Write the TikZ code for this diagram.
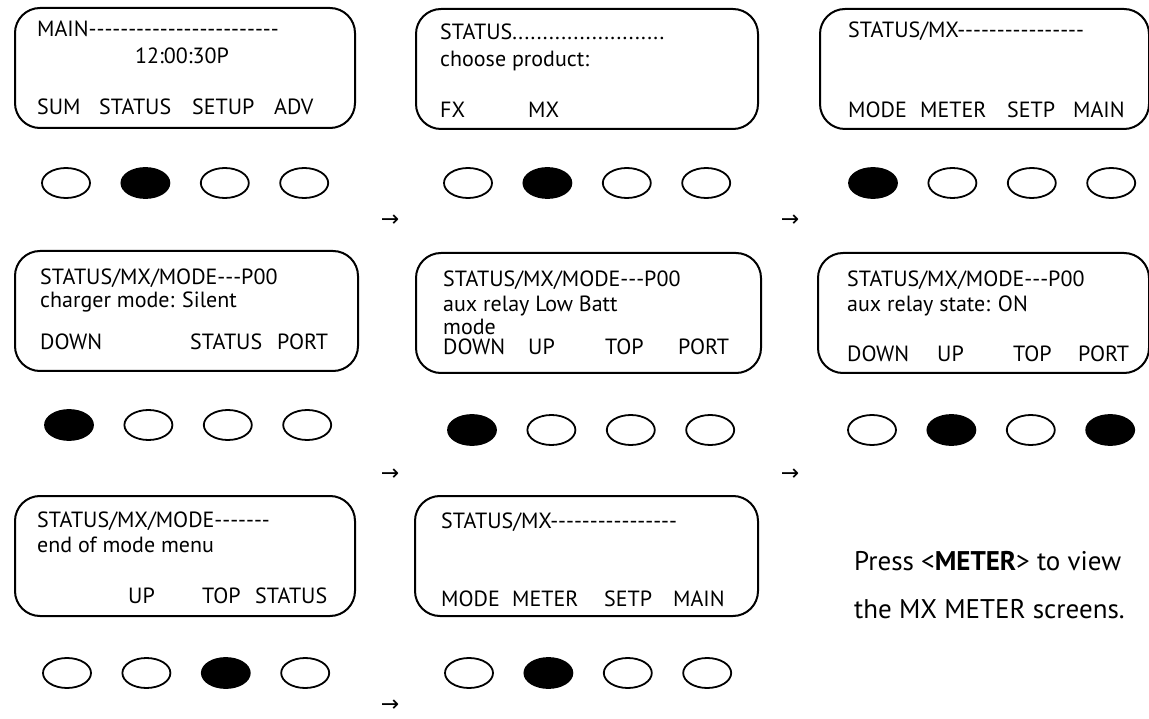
\documentclass[tikz,border=0pt]{standalone}
\usepackage{fontspec}
\usetikzlibrary{positioning}
\usetikzlibrary{shapes.geometric}
\newfontfamily\lcdfont{PT Sans}
\newfontfamily\notefont{PT Sans}
\newfontfamily\arrowfont{DejaVu Sans}
\tikzset{
    screen/.style={draw, line width=2pt, rounded corners=25pt, anchor=north west, inner sep=0pt, minimum height=\scrHeight pt},
    lcd/.style={anchor=base west, inner sep=0pt},
    key/.style={draw, ellipse, line width=1.8pt, inner sep=0pt, minimum width=\keyWidth pt, minimum height=\keyHeight pt},
    on/.style={fill=black},
    off/.style={fill=white},
    flow/.style={inner sep=0pt, text height=12pt, text depth=0pt, font=\arrowfont\fontsize{22}{26}\selectfont},
    note/.style={anchor=base west, inner sep=0pt, font=\notefont\fontsize{27}{32}\selectfont}
}
\newcommand{\fillchars}[2]{\foreach \i in {1,...,#1}{#2}}
\newcommand{\keys}[3]{
    \foreach \s [count=\x from 0] in {#3} {
        \ifnum\x=0
            \node (#1_key_0) [key, \s, #2] {};
        \else
            \pgfmathtruncatemacro{\prev}{\x-1}
            \node (#1_key_\x) [key, \s, right=\keyGap pt of #1_key_\prev] {};
        \fi
    }
}

\begin{document}
\begin{tikzpicture}[x=1pt, y=-1pt, font=\lcdfont\fontsize{22}{26}\selectfont]
    \pgfmathsetmacro{\scrWidth}{342}
    \pgfmathsetmacro{\scrHeight}{120}
    \pgfmathsetmacro{\keyWidth}{48}
    \pgfmathsetmacro{\keyHeight}{30}
    \pgfmathsetmacro{\keyGap}{29.6}

    \useasboundingbox (0,0) rectangle (1149,719);

    % row 1
    \node (main) [screen, minimum width=340pt] at (14,7) {};
    \node (main_title) [lcd] at (37,37) {MAIN\fillchars{24}{-}};
    \node (main_clock) [lcd, anchor=base] at (182,64) {12:00:30P};
    \node (main_sum) [lcd] at (37,115) {SUM};
    \node (main_status) [lcd] at (99,115) {STATUS};
    \node (main_setup) [lcd] at (192,115) {SETUP};
    \node (main_adv) [lcd] at (274,115) {ADV};
    \keys{main}{at={(66,183)}}{off,on,off,off}

    \node (status) [screen, minimum width=\scrWidth pt] at (415,8) {};
    \node (status_title) [lcd] at (440,40) {STATUS\fillchars{25}{.}};
    \node (status_text) [lcd] at (440,67) {choose product:};
    \node (status_fx) [lcd] at (440,118) {FX};
    \node (status_mx) [lcd] at (528,118) {MX};
    \keys{status}{at={(468,183)}}{off,on,off,off}

    \node (mx) [screen, minimum width=329pt] at (819,8) {};
    \node (mx_title) [lcd] at (848,38) {STATUS/MX\fillchars{16}{-}};
    \node (mx_mode) [lcd] at (848,118) {MODE};
    \node (mx_meter) [lcd] at (920,118) {METER};
    \node (mx_setp) [lcd] at (1007,118) {SETP};
    \node (mx_main) [lcd] at (1073,118) {MAIN};
    \keys{mx}{at={(873,183)}}{on,off,off,off}

    \node (arr_a) [flow] at (390,221) {→};
    \node (arr_b) [flow] at (790,221) {→};

    % row 2
    \node (charger) [screen, minimum width=343pt] at (14,250) {};
    \node (charger_title) [lcd] at (40,285) {STATUS/MX/MODE\fillchars{3}{-}P00};
    \node (charger_text) [lcd] at (40,308) {charger mode: Silent};
    \node (charger_down) [lcd] at (40,350) {DOWN};
    \node (charger_status) [lcd] at (190,350) {STATUS};
    \node (charger_port) [lcd] at (277,350) {PORT};
    \keys{charger}{at={(69,425)}}{on,off,off,off}

    \node (relay) [screen, minimum width=345pt] at (415,252) {};
    \node (relay_title) [lcd] at (443,287) {STATUS/MX/MODE\fillchars{3}{-}P00};
    \node (relay_text) [lcd] at (443,312) {aux relay Low Batt};
    \node (relay_text2) [lcd] at (443,335) {mode};
    \node (relay_down) [lcd] at (443,355) {DOWN};
    \node (relay_up) [lcd] at (528,355) {UP};
    \node (relay_top) [lcd] at (605,355) {TOP};
    \node (relay_port) [lcd] at (678,355) {PORT};
    \keys{relay}{at={(472,430)}}{on,off,off,off}

    \node (state) [screen, minimum width=331pt] at (817,252) {};
    \node (state_title) [lcd] at (847,287) {STATUS/MX/MODE\fillchars{3}{-}P00};
    \node (state_text) [lcd] at (847,312) {aux relay state: ON};
    \node (state_down) [lcd] at (847,362) {DOWN};
    \node (state_up) [lcd] at (937,362) {UP};
    \node (state_top) [lcd] at (1013,362) {TOP};
    \node (state_port) [lcd] at (1078,362) {PORT};
    \keys{state}{at={(872,430)}}{off,on,off,on}

    \node (arr_c) [flow] at (390,474) {→};
    \node (arr_d) [flow] at (790,474) {→};

    % row 3
    \node (modeend) [screen, minimum width=340pt] at (14,495) {};
    \node (modeend_title) [lcd] at (37,527) {STATUS/MX/MODE\fillchars{7}{-}};
    \node (modeend_text) [lcd] at (37,552) {end of mode menu};
    \node (modeend_up) [lcd] at (128,603) {UP};
    \node (modeend_top) [lcd] at (202,603) {TOP};
    \node (modeend_status) [lcd] at (255,603) {STATUS};
    \keys{modeend}{at={(67,673)}}{off,off,on,off}

    \node (mxback) [screen, minimum width=343pt] at (414,495) {};
    \node (mxback_title) [lcd] at (441,528) {STATUS/MX\fillchars{16}{-}};
    \node (mxback_mode) [lcd] at (441,606) {MODE};
    \node (mxback_meter) [lcd] at (512,606) {METER};
    \node (mxback_setp) [lcd] at (604,606) {SETP};
    \node (mxback_main) [lcd] at (673,606) {MAIN};
    \keys{mxback}{at={(469,673)}}{off,on,off,off}

    \node (arr_e) [flow] at (390,705) {→};

    \node (note_a) [note] at (854,570) {Press <\textbf{METER}> to view};
    \node (note_b) [note] at (854,618) {the MX METER screens.};
\end{tikzpicture}
\end{document}
